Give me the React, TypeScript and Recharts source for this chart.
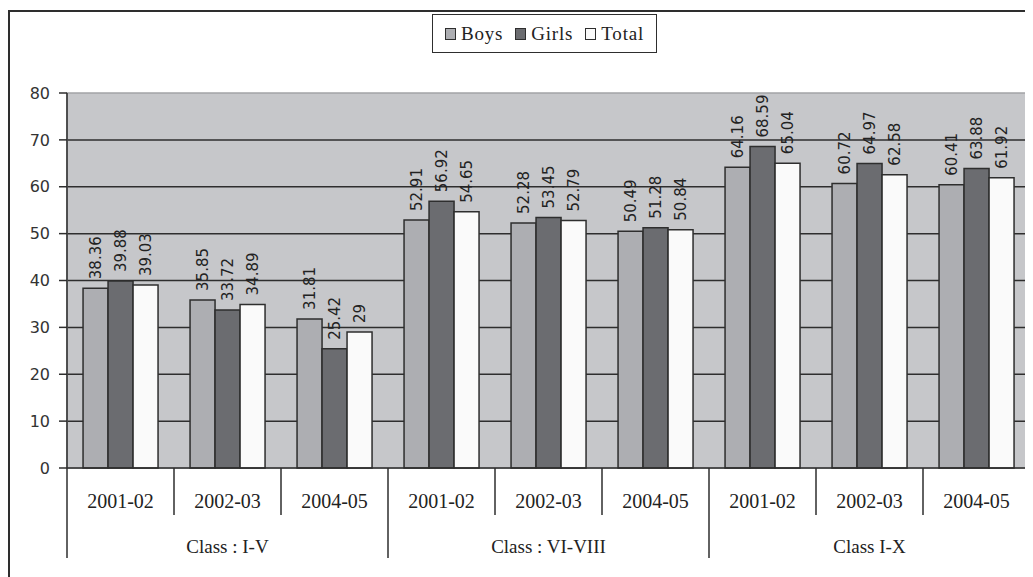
import React from 'react';
import {
  BarChart,
  Bar,
  XAxis,
  YAxis,
  CartesianGrid,
  LabelList,
  ReferenceArea,
} from 'recharts';

// categories
const classGroups = ['Class : I-V', 'Class : VI-VIII', 'Class I-X'];
const years = ['2001-02', '2002-03', '2004-05'];

// series values, one per (class, year) in order
const boys = [38.36, 35.85, 31.81, 52.91, 52.28, 50.49, 64.16, 60.72, 60.41];
const girls = [39.88, 33.72, 25.42, 56.92, 53.45, 51.28, 68.59, 64.97, 63.88];
const total = [39.03, 34.89, 29, 54.65, 52.79, 50.84, 65.04, 62.58, 61.92];

const yTicks = [0, 10, 20, 30, 40, 50, 60, 70, 80];

const data = classGroups.flatMap((cls, g) =>
  years.map((yr, j) => {
    const i = g * years.length + j;
    return { key: `${cls}|${yr}`, cls, year: yr, Boys: boys[i], Girls: girls[i], Total: total[i] };
  })
);

const series = [
  { key: 'Boys', color: '#adaeb2' },
  { key: 'Girls', color: '#6b6c70' },
  { key: 'Total', color: '#fafafa' },
];

const CHART_W = 1025;
const CHART_H = 569;
const MARGIN = { top: 85, right: 3, bottom: 9, left: 0 };
const Y_AXIS_W = 59;
const PLOT_W = CHART_W - MARGIN.left - MARGIN.right - Y_AXIS_W;
const BAND = PLOT_W / data.length;
const INK = '#2e2e2e';
const SERIF = '"Liberation Serif", "Times New Roman", serif';
const SANS = '"DejaVu Sans", Verdana, sans-serif';

// two-row category axis: year under each band, class name under each group of three
function GroupedTick(props: any) {
  const { x, y, payload } = props;
  const i = payload.index;
  const d = data[i];
  const left = x - BAND / 2;
  const right = x + BAND / 2;
  const groupStart = i % years.length === 0;
  const groupMid = i % years.length === 1;
  const last = i === data.length - 1;
  return (
    <g>
      <line x1={left} x2={left} y1={y} y2={y + (groupStart ? 90 : 47)} stroke={INK} strokeWidth={1.5} />
      {last && <line x1={right} x2={right} y1={y} y2={y + 100} stroke={INK} strokeWidth={1.5} />}
      <text x={x} y={y + 33} textAnchor="middle" dominantBaseline="central" fontFamily={SERIF} fontSize={20} fill="#222">
        {d.year}
      </text>
      {groupMid && (
        <text x={x} y={y + 78} textAnchor="middle" dominantBaseline="central" fontFamily={SERIF} fontSize={19} fill="#222">
          {d.cls}
        </text>
      )}
    </g>
  );
}

function ValueLabel(props: any) {
  const { x, y, width, value } = props;
  const cx = x + width / 2;
  const ty = y - 9;
  return (
    <text
      x={cx}
      y={ty}
      transform={`rotate(-90, ${cx}, ${ty})`}
      textAnchor="start"
      dominantBaseline="central"
      fontFamily={SANS}
      fontSize={15}
      fill="#222"
    >
      {String(value)}
    </text>
  );
}

function LegendBox() {
  return (
    <div
      style={{
        position: 'absolute',
        left: 424,
        top: 6,
        width: 225,
        height: 39,
        boxSizing: 'border-box',
        border: `1.5px solid ${INK}`,
        background: '#fff',
        display: 'flex',
        alignItems: 'center',
        justifyContent: 'center',
        gap: 12,
        fontFamily: SERIF,
        fontSize: 19,
        letterSpacing: 0.8,
        color: '#222',
      }}
    >
      {series.map(s => (
        <span key={s.key} style={{ display: 'flex', alignItems: 'center', gap: 5 }}>
          <span
            style={{
              display: 'inline-block',
              width: 11,
              height: 12,
              background: s.color,
              border: `1.5px solid ${INK}`,
              boxSizing: 'border-box',
            }}
          />
          {s.key}
        </span>
      ))}
    </div>
  );
}

export default function App() {
  return (
    <div style={{ position: 'relative', width: CHART_W, height: CHART_H, overflow: 'hidden' }}>
      <div
        style={{
          position: 'absolute',
          left: 0,
          top: 2,
          width: 1200,
          height: 800,
          borderTop: `2px solid ${INK}`,
          borderLeft: `2px solid ${INK}`,
        }}
      />
      <div style={{ position: 'absolute', left: 0, top: 0 }}>
        <BarChart
          width={CHART_W}
          height={CHART_H}
          data={data}
          margin={MARGIN}
          barCategoryGap="15%"
          barGap={0}
        >
          <CartesianGrid
            vertical={false}
            fill="#c6c7ca"
            stroke={INK}
            strokeWidth={1.5}
            horizontalValues={[10, 20, 30, 40, 50, 60, 70]}
          />
          <ReferenceArea y1={0} y2={80} fill="none" stroke="#a3a4a7" strokeWidth={1.5} />
          <XAxis
            dataKey="key"
            interval={0}
            tickSize={0}
            tickMargin={0}
            height={CHART_H - MARGIN.top - MARGIN.bottom - 375}
            axisLine={{ stroke: INK, strokeWidth: 1.5 }}
            tick={<GroupedTick />}
          />
          <YAxis
            width={Y_AXIS_W}
            domain={[0, 80]}
            ticks={yTicks}
            interval={0}
            tickSize={8}
            tickMargin={9}
            axisLine={{ stroke: INK, strokeWidth: 1.5 }}
            tickLine={{ stroke: INK, strokeWidth: 1.5 }}
            tick={{ fontFamily: SANS, fontSize: 16, fill: '#333' }}
          />
          {series.map(s => (
            <Bar key={s.key} dataKey={s.key} fill={s.color} stroke={INK} strokeWidth={1.5} isAnimationActive={false}>
              <LabelList dataKey={s.key} content={<ValueLabel />} />
            </Bar>
          ))}
        </BarChart>
      </div>
      <LegendBox />
    </div>
  );
}
